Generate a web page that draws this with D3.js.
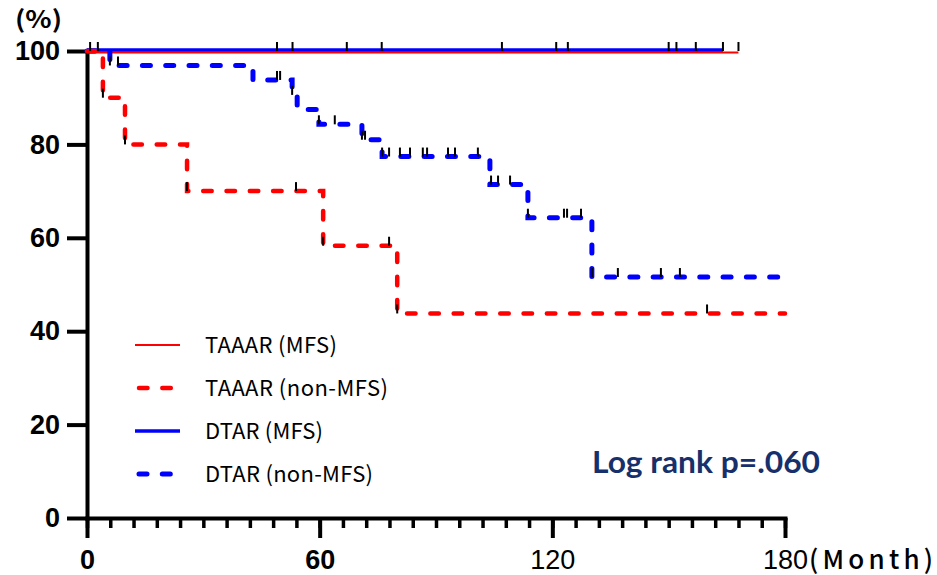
<!DOCTYPE html>
<html>
<head>
<meta charset="utf-8">
<script src="https://cdn.jsdelivr.net/npm/d3@7"></script>
<style>
  body { margin: 0; background: #fff; }
  svg { display: block; }
</style>
</head>
<body>
<svg width="937" height="575"></svg>
<script>
'use strict'

// Kaplan-Meier curves: step start times (month) and survival (%) from that time on
const taaarMfsTimes = [0]
const taaarMfsSurv = [100]
const taaarMfsEnd = 168
const taaarMfsCensor = [2.8, 53, 76, 121, 150, 157, 168]

const dtarMfsTimes = [0]
const dtarMfsSurv = [100]
const dtarMfsEnd = 164
const dtarMfsCensor = [0.8, 49, 67, 107, 124, 152, 164]

const taaarNonTimes = [0, 4.1, 9.8, 25.8, 60.9, 80.0]
const taaarNonSurv = [100, 90, 80, 70, 58.3, 43.8]
const taaarNonEnd = 180
const taaarNonCensor = [4.1, 9.8, 25.8, 53.9, 60.9, 77.9, 80.0, 159.9]

const dtarNonTimes = [0, 5.9, 42.8, 52.9, 54.2, 59.8, 70.9, 76.1, 103.9, 113.7, 130.2]
const dtarNonSurv = [100, 96.9, 93.8, 90.6, 87.5, 84.3, 81.0, 77.4, 71.4, 64.3, 51.6]
const dtarNonEnd = 178.7
const dtarNonCensor = [5.9, 8.0, 49.0, 49.8, 52.9, 59.8, 63.9, 70.9, 71.7, 76.1, 77.9, 80.7,
  83.3, 86.6, 87.7, 93.1, 94.9, 100.8, 104.2, 106.0, 109.1, 113.7, 123.0, 123.8, 127.4,
  130.2, 136.9, 148.0, 152.9]

const legendLabels = ['TAAAR (MFS)', 'TAAAR (non-MFS)', 'DTAR (MFS)', 'DTAR (non-MFS)']
const yTicks = [0, 20, 40, 60, 80, 100]
const xTicks = [0, 60, 120, 180]
const xMinorTicks = d3.range(0, 181, 6)
const pValueText = 'Log rank p=.060'

const svg = d3.select('svg')
const x = d3.scaleLinear().domain([0, 180]).range([87, 785])
const y = d3.scaleLinear().domain([0, 100]).range([518, 51])

const series = [
  { name: legendLabels[0], times: taaarMfsTimes, surv: taaarMfsSurv, end: taaarMfsEnd, censor: taaarMfsCensor,
    color: '#ff0000', width: 2, dash: null, shift: 1.5 },
  { name: legendLabels[1], times: taaarNonTimes, surv: taaarNonSurv, end: taaarNonEnd, censor: taaarNonCensor,
    color: '#ff0000', width: 4.5, dash: '8.5,14.8', shift: 0 },
  { name: legendLabels[2], times: dtarMfsTimes, surv: dtarMfsSurv, end: dtarMfsEnd, censor: dtarMfsCensor,
    color: '#0000ff', width: 3.5, dash: null, shift: -1 },
  { name: legendLabels[3], times: dtarNonTimes, surv: dtarNonSurv, end: dtarNonEnd, censor: dtarNonCensor,
    color: '#0000ff', width: 5, dash: '8,15.3', shift: 0 }
]

const stepLine = d3.line()
  .x((d) => x(d[0]))
  .y((d) => y(d[1]))
  .curve(d3.curveStepAfter)

const pointsOf = (s) => s.times.map((t, i) => [t, s.surv[i]]).concat([[s.end, s.surv[s.surv.length - 1]]])
const survAt = (s, t) => s.surv[d3.bisectRight(s.times, t) - 1]

// axes
const xMinor = svg.append('g').attr('transform', 'translate(0,518)')
  .call(d3.axisBottom(x).tickValues(xMinorTicks).tickSize(10).tickSizeOuter(0).tickFormat(''))
const xMajor = svg.append('g').attr('transform', 'translate(0,518)')
  .call(d3.axisBottom(x).tickValues(xTicks).tickSize(20).tickSizeOuter(0).tickPadding(12).tickFormat(d3.format('d')))
xMajor.select('.domain').remove()
const yAxis = svg.append('g').attr('transform', 'translate(87,0)')
  .call(d3.axisLeft(y).tickValues(yTicks).tickSize(20).tickSizeOuter(0).tickPadding(7))

svg.selectAll('.domain').attr('stroke', '#000').attr('stroke-width', 4).attr('stroke-linecap', 'square')
svg.selectAll('.tick line').attr('stroke', '#000').attr('stroke-width', 4)
xMinor.selectAll('.tick line').attr('stroke-width', 3.5)

yAxis.selectAll('.tick text')
  .attr('fill', '#000')
  .style('font-family', '"Liberation Sans", Arial, sans-serif')
  .style('font-weight', 'bold')
  .style('font-size', '27px')

xMajor.selectAll('.tick text')
  .attr('fill', '#000')
  .style('font-family', '"Liberation Sans", Arial, sans-serif')
  .style('font-weight', (d) => d < 120 ? 'bold' : 'normal')
  .style('font-size', '27px')

svg.append('text')
  .attr('x', 809).attr('y', 569)
  .attr('textLength', 124).attr('lengthAdjust', 'spacing')
  .style('font-family', '"Noto Sans CJK JP", sans-serif')
  .style('font-weight', 500)
  .style('font-size', '26px')
  .text('(Month)')

svg.append('text')
  .attr('x', 15).attr('y', 28)
  .attr('textLength', 47).attr('lengthAdjust', 'spacingAndGlyphs')
  .style('font-family', '"Noto Sans CJK JP", sans-serif')
  .style('font-weight', 'bold')
  .style('font-size', '24px')
  .text('(%)')

// curves: solid first, dashed on top
const drawOrder = [series[0], series[2], series[3], series[1]]
svg.selectAll('path.km').data(drawOrder)
  .enter()
  .append('path')
  .classed('km', true)
  .attr('d', (d) => stepLine(pointsOf(d)))
  .attr('transform', (d) => `translate(0,${d.shift})`)
  .style('fill', 'none')
  .style('stroke', (d) => d.color)
  .style('stroke-width', (d) => d.width)
  .style('stroke-dasharray', (d) => d.dash)
  .style('stroke-linecap', (d) => d.dash ? 'round' : 'butt')

// censor marks
const censorData = series.flatMap((s) => s.censor.map((t) => ({ t: t, v: survAt(s, t) })))
svg.selectAll('line.censor').data(censorData)
  .enter()
  .append('line')
  .classed('censor', true)
  .attr('x1', (d) => x(d.t))
  .attr('x2', (d) => x(d.t))
  .attr('y1', (d) => y(d.v))
  .attr('y2', (d) => y(d.v) - 9)
  .style('stroke', '#000')
  .style('stroke-width', 2)

// legend
const legendWidths = [132, 183, 118, 168]
const legend = svg.selectAll('g.legend').data(series)
  .enter()
  .append('g')
  .classed('legend', true)
  .attr('transform', (d, i) => `translate(135,${345 + i * 43})`)

legend.append('line')
  .attr('x1', 0)
  .attr('x2', (d) => d.dash ? 41 : 45)
  .attr('transform', (d) => d.dash ? 'translate(4,0)' : null)
  .style('stroke', (d) => d.color)
  .style('stroke-width', (d) => d.width)
  .style('stroke-dasharray', (d) => d.dash)
  .style('stroke-linecap', (d) => d.dash ? 'round' : 'butt')

legend.append('text')
  .attr('x', 70).attr('y', 8)
  .attr('textLength', (d, i) => legendWidths[i])
  .attr('lengthAdjust', 'spacing')
  .style('font-family', '"Noto Sans CJK JP", sans-serif')
  .style('font-size', '22px')
  .text((d) => d.name)

svg.append('text')
  .attr('x', 592).attr('y', 473)
  .attr('textLength', 228).attr('lengthAdjust', 'spacingAndGlyphs')
  .style('font-family', 'Lato, sans-serif')
  .style('font-weight', 'bold')
  .style('font-size', '30px')
  .style('fill', '#17306c')
  .text(pValueText)
</script>
</body>
</html>
